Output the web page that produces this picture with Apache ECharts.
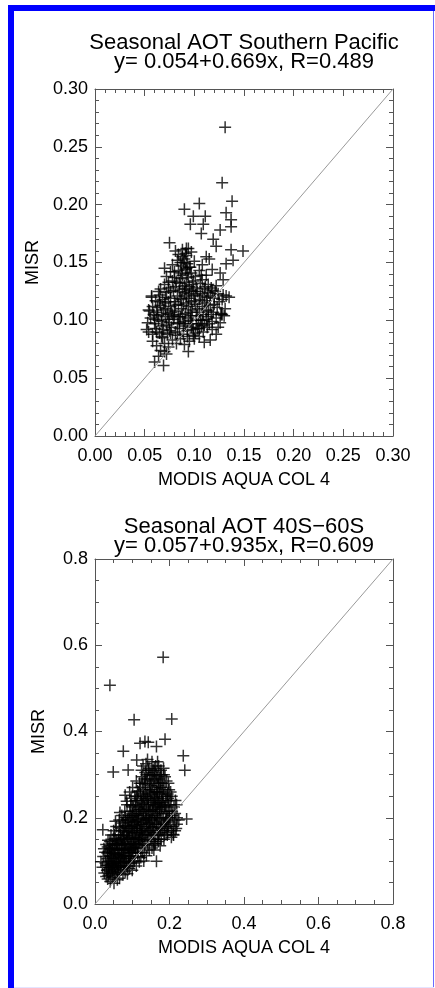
<!DOCTYPE html>
<html>
<head>
<meta charset="utf-8">
<style>
  html, body { margin: 0; padding: 0; background: #fff; }
  #chart { width: 435px; height: 988px; }
</style>
<script src="https://cdn.jsdelivr.net/npm/echarts@6.0.0/dist/echarts.min.js"></script>
</head>
<body>
<div id="chart"></div>
<script>
// panel titles
const topTitle = 'Seasonal AOT Southern Pacific\ny= 0.054+0.669x, R=0.489'
const bottomTitle = 'Seasonal AOT 40S\u221260S\ny= 0.057+0.935x, R=0.609'
const xName = 'MODIS AQUA COL 4'
const yName = 'MISR'

// axis ranges
const topMax = 0.3
const topInterval = 0.05
const bottomMax = 0.8
const bottomInterval = 0.2

// 1:1 reference lines
const topDiagonal = [[0, 0], [0.3, 0.3]]
const bottomDiagonal = [[0, 0], [0.8, 0.8]]

// Southern Pacific: MODIS (x) vs MISR (y)
const topPoints = [
  [0.131, 0.267], [0.128, 0.219], [0.138, 0.203], [0.105, 0.201], [0.090, 0.196],
  [0.099, 0.190], [0.111, 0.190], [0.132, 0.193], [0.137, 0.187], [0.096, 0.183],
  [0.109, 0.183], [0.137, 0.181], [0.107, 0.175], [0.126, 0.178], [0.119, 0.170],
  [0.122, 0.164], [0.075, 0.167], [0.092, 0.162], [0.149, 0.160], [0.137, 0.161],
  [0.139, 0.152], [0.132, 0.149], [0.070, 0.145], [0.126, 0.141], [0.112, 0.155],
  [0.129, 0.135], [0.129, 0.122], [0.127, 0.105], [0.116, 0.083], [0.094, 0.073],
  [0.069, 0.061], [0.060, 0.064], [0.070, 0.073], [0.052, 0.092], [0.054, 0.109],
  [0.057, 0.121], [0.064, 0.125],
  [0.062, 0.078], [0.066, 0.074], [0.070, 0.080], [0.074, 0.077], [0.078, 0.083],
  [0.068, 0.085], [0.082, 0.080], [0.086, 0.084], [0.090, 0.079], [0.095, 0.082],
  [0.100, 0.084], [0.072, 0.071], [0.064, 0.069], [0.058, 0.082], [0.105, 0.086],
  [0.110, 0.081],
  [0.054, 0.090], [0.058, 0.088], [0.061, 0.093], [0.065, 0.089], [0.069, 0.092],
  [0.073, 0.088], [0.077, 0.094], [0.081, 0.090], [0.085, 0.093], [0.089, 0.088],
  [0.093, 0.091], [0.097, 0.094], [0.101, 0.089], [0.105, 0.093], [0.109, 0.090],
  [0.113, 0.094], [0.118, 0.092], [0.122, 0.088], [0.067, 0.086], [0.075, 0.091],
  [0.083, 0.087], [0.091, 0.095], [0.099, 0.087], [0.107, 0.095],
  [0.053, 0.098], [0.056, 0.102], [0.060, 0.097], [0.063, 0.104], [0.067, 0.099],
  [0.071, 0.103], [0.075, 0.098], [0.079, 0.101], [0.083, 0.097], [0.086, 0.103],
  [0.090, 0.099], [0.094, 0.102], [0.098, 0.097], [0.102, 0.104], [0.106, 0.100],
  [0.110, 0.096], [0.114, 0.103], [0.118, 0.099], [0.122, 0.102], [0.126, 0.098],
  [0.130, 0.104], [0.072, 0.096], [0.088, 0.105], [0.096, 0.100], [0.104, 0.097],
  [0.112, 0.101], [0.064, 0.100], [0.080, 0.104],
  [0.055, 0.108], [0.058, 0.112], [0.062, 0.107], [0.066, 0.113], [0.069, 0.109],
  [0.073, 0.106], [0.076, 0.112], [0.080, 0.108], [0.084, 0.114], [0.087, 0.110],
  [0.091, 0.106], [0.094, 0.112], [0.098, 0.109], [0.101, 0.114], [0.105, 0.107],
  [0.108, 0.112], [0.112, 0.109], [0.116, 0.113], [0.119, 0.107], [0.123, 0.111],
  [0.127, 0.106], [0.131, 0.110], [0.070, 0.115], [0.078, 0.105], [0.089, 0.113],
  [0.096, 0.107], [0.103, 0.110], [0.110, 0.115], [0.117, 0.105], [0.128, 0.105],
  [0.057, 0.120], [0.061, 0.117], [0.065, 0.122], [0.068, 0.118], [0.072, 0.124],
  [0.076, 0.119], [0.080, 0.116], [0.083, 0.121], [0.087, 0.118], [0.090, 0.124],
  [0.094, 0.119], [0.097, 0.116], [0.101, 0.122], [0.105, 0.118], [0.108, 0.123],
  [0.112, 0.117], [0.116, 0.121], [0.120, 0.119], [0.124, 0.123], [0.128, 0.118],
  [0.132, 0.121], [0.135, 0.120], [0.074, 0.116], [0.085, 0.125], [0.092, 0.121],
  [0.099, 0.125], [0.114, 0.124],
  [0.066, 0.127], [0.070, 0.131], [0.074, 0.128], [0.078, 0.134], [0.081, 0.129],
  [0.085, 0.132], [0.088, 0.127], [0.092, 0.133], [0.095, 0.129], [0.099, 0.134],
  [0.102, 0.128], [0.106, 0.132], [0.110, 0.127], [0.114, 0.131], [0.118, 0.126],
  [0.122, 0.130], [0.076, 0.125], [0.090, 0.130], [0.097, 0.126], [0.108, 0.135],
  [0.072, 0.138], [0.076, 0.142], [0.080, 0.137], [0.084, 0.143], [0.088, 0.139],
  [0.091, 0.144], [0.094, 0.137], [0.097, 0.141], [0.101, 0.138], [0.105, 0.143],
  [0.112, 0.139], [0.118, 0.144], [0.086, 0.136], [0.093, 0.140],
  [0.078, 0.148], [0.083, 0.152], [0.087, 0.147], [0.090, 0.153], [0.093, 0.149],
  [0.096, 0.146], [0.100, 0.151], [0.108, 0.148], [0.115, 0.153], [0.089, 0.150],
  [0.084, 0.157], [0.088, 0.161], [0.091, 0.158], [0.094, 0.162], [0.092, 0.156],
  [0.097, 0.159], [0.081, 0.160],
  [0.060, 0.101], [0.063, 0.111], [0.067, 0.105], [0.071, 0.110], [0.074, 0.101],
  [0.077, 0.107], [0.081, 0.113], [0.084, 0.103], [0.086, 0.119], [0.089, 0.097],
  [0.092, 0.115], [0.095, 0.123], [0.097, 0.104], [0.100, 0.117], [0.103, 0.093],
  [0.106, 0.121], [0.109, 0.105], [0.111, 0.129], [0.115, 0.097], [0.120, 0.114],
  [0.124, 0.094], [0.079, 0.126], [0.082, 0.133], [0.087, 0.141], [0.091, 0.127],
  [0.095, 0.146], [0.098, 0.131], [0.103, 0.125], [0.107, 0.139], [0.071, 0.120],
  [0.068, 0.095], [0.076, 0.089], [0.085, 0.098], [0.093, 0.086], [0.102, 0.100],
  [0.113, 0.120], [0.117, 0.128], [0.121, 0.125], [0.125, 0.116], [0.088, 0.155],
  [0.092, 0.145], [0.086, 0.150], [0.080, 0.142], [0.074, 0.133], [0.065, 0.116],
  [0.059, 0.105], [0.062, 0.090], [0.099, 0.092], [0.108, 0.100], [0.114, 0.108]
]

// 40S-60S: MODIS (x) vs MISR (y)
const bottomPoints = [
  [0.040, 0.507], [0.183, 0.572], [0.105, 0.427], [0.206, 0.429], [0.188, 0.382],
  [0.076, 0.354], [0.049, 0.306], [0.237, 0.344], [0.241, 0.310], [0.121, 0.373],
  [0.134, 0.377], [0.143, 0.375], [0.165, 0.365], [0.089, 0.311], [0.112, 0.334],
  [0.246, 0.197], [0.219, 0.230], [0.021, 0.172], [0.165, 0.099], [0.210, 0.161],
  [0.016, 0.098], [0.020, 0.085], [0.022, 0.110], [0.025, 0.072], [0.027, 0.120],
  [0.028, 0.095], [0.030, 0.064], [0.030, 0.138], [0.024, 0.128],
  [0.032, 0.078], [0.033, 0.105], [0.034, 0.058], [0.035, 0.148], [0.036, 0.090],
  [0.037, 0.122], [0.038, 0.070], [0.039, 0.112], [0.040, 0.135], [0.041, 0.052],
  [0.042, 0.098], [0.043, 0.160], [0.044, 0.084], [0.045, 0.118], [0.036, 0.066],
  [0.040, 0.145], [0.034, 0.132],
  [0.046, 0.062], [0.047, 0.140], [0.048, 0.075], [0.049, 0.105], [0.050, 0.170],
  [0.051, 0.048], [0.052, 0.128], [0.053, 0.088], [0.054, 0.152], [0.055, 0.068],
  [0.056, 0.115], [0.057, 0.180], [0.058, 0.095], [0.059, 0.136], [0.060, 0.056],
  [0.047, 0.094], [0.050, 0.118], [0.053, 0.160], [0.056, 0.082], [0.058, 0.145],
  [0.052, 0.108], [0.055, 0.192],
  [0.061, 0.072], [0.062, 0.125], [0.063, 0.160], [0.064, 0.090], [0.065, 0.195],
  [0.066, 0.060], [0.067, 0.142], [0.068, 0.108], [0.069, 0.175], [0.070, 0.080],
  [0.071, 0.130], [0.072, 0.205], [0.073, 0.098], [0.074, 0.155], [0.075, 0.068],
  [0.062, 0.098], [0.064, 0.115], [0.066, 0.178], [0.068, 0.088], [0.070, 0.150],
  [0.072, 0.118], [0.074, 0.188], [0.067, 0.212],
  [0.076, 0.112], [0.077, 0.170], [0.078, 0.085], [0.079, 0.140], [0.080, 0.215],
  [0.081, 0.075], [0.082, 0.125], [0.083, 0.190], [0.084, 0.100], [0.085, 0.158],
  [0.086, 0.230], [0.087, 0.070], [0.088, 0.135], [0.089, 0.200], [0.090, 0.110],
  [0.078, 0.160], [0.080, 0.098], [0.082, 0.182], [0.084, 0.145], [0.086, 0.088],
  [0.088, 0.168], [0.076, 0.195], [0.089, 0.120], [0.085, 0.238], [0.081, 0.252],
  [0.091, 0.152], [0.092, 0.082], [0.093, 0.215], [0.094, 0.125], [0.095, 0.180],
  [0.096, 0.095], [0.097, 0.245], [0.098, 0.140], [0.099, 0.200], [0.100, 0.078],
  [0.101, 0.165], [0.102, 0.112], [0.103, 0.228], [0.104, 0.132], [0.105, 0.190],
  [0.092, 0.170], [0.094, 0.105], [0.096, 0.230], [0.098, 0.118], [0.100, 0.210],
  [0.102, 0.150], [0.104, 0.095], [0.093, 0.260], [0.099, 0.175], [0.101, 0.270],
  [0.106, 0.100], [0.107, 0.155], [0.108, 0.240], [0.109, 0.120], [0.110, 0.205],
  [0.111, 0.088], [0.112, 0.175], [0.113, 0.138], [0.114, 0.262], [0.115, 0.110],
  [0.116, 0.195], [0.117, 0.150], [0.118, 0.225], [0.119, 0.098], [0.120, 0.280],
  [0.106, 0.182], [0.108, 0.130], [0.110, 0.165], [0.112, 0.250], [0.114, 0.118],
  [0.116, 0.210], [0.118, 0.145], [0.107, 0.215], [0.113, 0.190], [0.119, 0.170],
  [0.111, 0.285],
  [0.121, 0.130], [0.122, 0.185], [0.123, 0.108], [0.124, 0.240], [0.125, 0.160],
  [0.126, 0.295], [0.127, 0.120], [0.128, 0.210], [0.129, 0.148], [0.130, 0.265],
  [0.131, 0.100], [0.132, 0.190], [0.133, 0.225], [0.134, 0.138], [0.135, 0.305],
  [0.122, 0.255], [0.124, 0.175], [0.126, 0.140], [0.128, 0.232], [0.130, 0.198],
  [0.132, 0.118], [0.134, 0.278], [0.123, 0.220], [0.127, 0.170], [0.131, 0.250],
  [0.125, 0.310], [0.129, 0.320],
  [0.136, 0.162], [0.137, 0.215], [0.138, 0.112], [0.139, 0.250], [0.140, 0.180],
  [0.141, 0.290], [0.142, 0.135], [0.143, 0.230], [0.144, 0.200], [0.145, 0.315],
  [0.146, 0.125], [0.147, 0.265], [0.148, 0.170], [0.149, 0.240], [0.150, 0.150],
  [0.136, 0.280], [0.138, 0.195], [0.140, 0.145], [0.142, 0.260], [0.144, 0.170],
  [0.146, 0.215], [0.148, 0.300], [0.137, 0.325], [0.141, 0.335], [0.145, 0.188],
  [0.149, 0.275],
  [0.151, 0.205], [0.152, 0.270], [0.153, 0.130], [0.154, 0.235], [0.155, 0.178],
  [0.156, 0.310], [0.157, 0.145], [0.158, 0.250], [0.159, 0.200], [0.160, 0.290],
  [0.161, 0.160], [0.162, 0.225], [0.163, 0.320], [0.164, 0.185], [0.165, 0.260],
  [0.152, 0.160], [0.154, 0.300], [0.156, 0.220], [0.158, 0.175], [0.160, 0.240],
  [0.162, 0.140], [0.164, 0.280], [0.153, 0.330], [0.159, 0.315],
  [0.166, 0.210], [0.167, 0.150], [0.168, 0.295], [0.169, 0.235], [0.170, 0.180],
  [0.171, 0.320], [0.172, 0.255], [0.173, 0.165], [0.174, 0.220], [0.175, 0.300],
  [0.176, 0.195], [0.177, 0.270], [0.178, 0.150], [0.179, 0.240], [0.180, 0.210],
  [0.167, 0.260], [0.169, 0.200], [0.171, 0.280], [0.173, 0.225], [0.175, 0.170],
  [0.177, 0.310], [0.179, 0.185], [0.168, 0.330],
  [0.181, 0.280], [0.182, 0.170], [0.183, 0.250], [0.184, 0.200], [0.185, 0.300],
  [0.186, 0.225], [0.187, 0.160], [0.188, 0.265], [0.189, 0.190], [0.190, 0.240],
  [0.191, 0.175], [0.192, 0.285], [0.193, 0.215], [0.194, 0.160], [0.195, 0.255],
  [0.196, 0.200], [0.197, 0.230], [0.198, 0.180], [0.199, 0.265], [0.200, 0.215],
  [0.184, 0.315], [0.188, 0.228], [0.192, 0.195], [0.196, 0.245],
  [0.202, 0.190], [0.204, 0.230], [0.205, 0.170], [0.206, 0.250], [0.208, 0.205],
  [0.210, 0.180], [0.212, 0.225], [0.214, 0.195], [0.216, 0.240], [0.218, 0.175],
  [0.203, 0.260], [0.207, 0.215], [0.211, 0.160], [0.215, 0.210], [0.220, 0.200],
  [0.031, 0.090], [0.033, 0.118], [0.035, 0.080], [0.037, 0.100], [0.039, 0.128],
  [0.041, 0.075], [0.043, 0.110], [0.045, 0.092], [0.046, 0.130], [0.048, 0.085],
  [0.049, 0.150], [0.051, 0.100], [0.052, 0.072], [0.054, 0.125], [0.056, 0.098],
  [0.057, 0.140], [0.059, 0.078], [0.060, 0.115], [0.042, 0.125], [0.038, 0.085],
  [0.061, 0.138], [0.063, 0.085], [0.064, 0.148], [0.065, 0.105], [0.066, 0.128],
  [0.068, 0.160], [0.069, 0.095], [0.071, 0.112], [0.072, 0.140], [0.073, 0.170],
  [0.075, 0.125], [0.076, 0.090], [0.077, 0.150], [0.079, 0.110], [0.080, 0.180],
  [0.081, 0.138], [0.083, 0.105], [0.084, 0.165], [0.086, 0.125], [0.087, 0.195],
  [0.088, 0.150], [0.090, 0.095], [0.090, 0.175], [0.082, 0.200], [0.078, 0.128],
  [0.091, 0.130], [0.092, 0.195], [0.093, 0.110], [0.094, 0.155], [0.095, 0.140],
  [0.096, 0.205], [0.097, 0.120], [0.098, 0.180], [0.099, 0.150], [0.100, 0.125],
  [0.101, 0.225], [0.102, 0.185], [0.103, 0.140], [0.104, 0.205], [0.105, 0.160],
  [0.106, 0.130], [0.107, 0.250], [0.108, 0.190], [0.109, 0.150], [0.110, 0.230],
  [0.111, 0.140], [0.112, 0.205], [0.113, 0.165], [0.114, 0.240], [0.115, 0.180],
  [0.116, 0.135], [0.117, 0.260], [0.118, 0.195], [0.119, 0.150], [0.120, 0.220],
  [0.121, 0.170], [0.122, 0.270], [0.123, 0.150], [0.124, 0.205], [0.125, 0.235],
  [0.126, 0.185], [0.127, 0.280], [0.128, 0.155], [0.129, 0.245], [0.130, 0.215],
  [0.131, 0.175], [0.132, 0.290], [0.133, 0.160], [0.134, 0.240], [0.135, 0.200],
  [0.136, 0.255], [0.137, 0.185], [0.138, 0.300], [0.139, 0.220], [0.140, 0.165],
  [0.141, 0.245], [0.142, 0.200], [0.143, 0.310], [0.144, 0.230], [0.145, 0.160],
  [0.146, 0.285], [0.147, 0.195], [0.148, 0.255], [0.149, 0.215], [0.150, 0.180],
  [0.151, 0.300], [0.152, 0.240], [0.153, 0.195], [0.154, 0.265], [0.155, 0.215],
  [0.156, 0.165], [0.157, 0.285], [0.158, 0.230], [0.159, 0.260], [0.160, 0.190],
  [0.161, 0.305], [0.162, 0.245], [0.163, 0.205], [0.164, 0.230], [0.165, 0.300],
  [0.166, 0.185], [0.167, 0.245], [0.168, 0.215], [0.169, 0.275], [0.170, 0.160],
  [0.171, 0.235], [0.172, 0.290], [0.173, 0.200], [0.174, 0.260], [0.175, 0.230],
  [0.176, 0.280], [0.177, 0.175], [0.178, 0.225], [0.179, 0.300], [0.180, 0.255],
  [0.182, 0.235], [0.184, 0.270], [0.186, 0.185], [0.188, 0.295], [0.190, 0.210],
  [0.193, 0.250], [0.195, 0.180], [0.197, 0.280], [0.199, 0.200], [0.201, 0.240],
  [0.160, 0.140], [0.170, 0.145], [0.185, 0.150], [0.195, 0.165], [0.205, 0.155],
  [0.215, 0.170], [0.220, 0.185], [0.225, 0.195], [0.158, 0.125], [0.175, 0.135]
]

const FONT = 'Liberation Sans, Arial, sans-serif'
const FRAME = '#555'
const PLUS = 'path://M5.25,0h1.5v5.25h5.25v1.5h-5.25v5.25h-1.5v-5.25h-5.25v-1.5h5.25z'

function valueAxis(gridIndex, position, max, interval, minorSplit, digits, withLabels, name) {
  const vertical = position === 'left' || position === 'right'
  return {
    type: 'value',
    gridIndex,
    position,
    min: 0,
    max,
    interval,
    name: name || '',
    nameLocation: 'middle',
    nameGap: vertical ? 47 : 35,
    nameRotate: vertical ? 90 : 0,
    nameTextStyle: { color: '#000', fontFamily: FONT, fontSize: 18 },
    axisLine: { show: true, onZero: false, lineStyle: { color: FRAME, width: 1 } },
    axisTick: { show: true, inside: true, length: 7, lineStyle: { color: FRAME } },
    minorTick: { show: true, splitNumber: minorSplit, length: 4, lineStyle: { color: FRAME } },
    axisLabel: {
      show: withLabels,
      color: '#000',
      fontFamily: FONT,
      fontSize: 18,
      margin: vertical ? 7 : 11,
      formatter: (v) => v.toFixed(digits),
    },
    splitLine: { show: false },
  }
}

function panelAxes(gridIndex, max, interval, minorSplit, digits) {
  return {
    x: [
      valueAxis(gridIndex, 'bottom', max, interval, minorSplit, digits, true, xName),
      valueAxis(gridIndex, 'top', max, interval, minorSplit, digits, false),
    ],
    y: [
      valueAxis(gridIndex, 'left', max, interval, minorSplit, digits, true, yName),
      valueAxis(gridIndex, 'right', max, interval, minorSplit, digits, false),
    ],
  }
}

const topAxes = panelAxes(0, topMax, topInterval, 5, 2)
const bottomAxes = panelAxes(1, bottomMax, bottomInterval, 4, 1)

const chart = echarts.init(document.getElementById('chart'), null, { renderer: 'canvas' })

chart.setOption({
  animation: false,
  backgroundColor: '#fff',
  title: [
    {
      text: topTitle,
      left: 244,
      top: 33,
      textAlign: 'center',
      padding: 0,
      textStyle: { color: '#000', fontFamily: FONT, fontSize: 22, fontWeight: 'normal', lineHeight: 19 },
    },
    {
      text: bottomTitle,
      left: 244,
      top: 517,
      textAlign: 'center',
      padding: 0,
      textStyle: { color: '#000', fontFamily: FONT, fontSize: 22, fontWeight: 'normal', lineHeight: 19 },
    },
  ],
  grid: [
    { left: 95, top: 89, width: 298, height: 347, containLabel: false },
    { left: 95, top: 559, width: 298, height: 345, containLabel: false },
  ],
  xAxis: [...topAxes.x, ...bottomAxes.x],
  yAxis: [...topAxes.y, ...bottomAxes.y],
  series: [
    {
      type: 'line',
      xAxisIndex: 0,
      yAxisIndex: 0,
      data: topDiagonal,
      symbol: 'none',
      silent: true,
      lineStyle: { color: '#999', width: 1 },
    },
    {
      type: 'scatter',
      xAxisIndex: 0,
      yAxisIndex: 0,
      data: topPoints,
      symbol: PLUS,
      symbolSize: 12,
      itemStyle: { color: '#000' },
    },
    {
      type: 'line',
      xAxisIndex: 2,
      yAxisIndex: 2,
      data: bottomDiagonal,
      symbol: 'none',
      silent: true,
      lineStyle: { color: '#999', width: 1 },
    },
    {
      type: 'scatter',
      xAxisIndex: 2,
      yAxisIndex: 2,
      data: bottomPoints,
      symbol: PLUS,
      symbolSize: 12,
      itemStyle: { color: '#000' },
    },
  ],
  graphic: [
    { type: 'rect', shape: { x: 8, y: 5, width: 6, height: 983 }, style: { fill: '#0000ff' }, silent: true },
    { type: 'rect', shape: { x: 8, y: 5, width: 427, height: 6 }, style: { fill: '#0000ff' }, silent: true },
    { type: 'rect', shape: { x: 433, y: 11, width: 1, height: 977 }, style: { fill: '#6a6aff' }, silent: true },
    { type: 'rect', shape: { x: 14, y: 987, width: 420, height: 1 }, style: { fill: '#e4e4ff' }, silent: true },
  ],
})
</script>
</body>
</html>
